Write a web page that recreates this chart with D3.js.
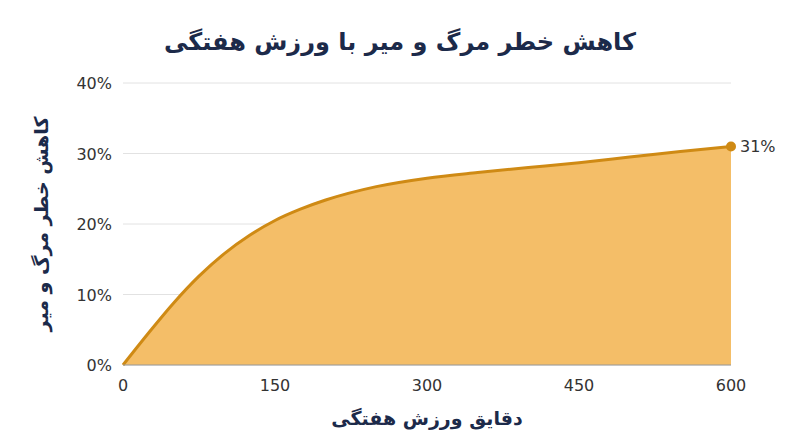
<!DOCTYPE html>
<html><head><meta charset="utf-8">
<script src="https://cdn.jsdelivr.net/npm/d3@7"></script>
<style>body{margin:0;background:#fff}</style>
</head><body>
<svg id="c" width="800" height="447"></svg>
<script>
// minutes of weekly exercise vs. risk reduction
const minutes = [0, 25, 50, 75, 100, 125, 150, 175, 200, 250, 300, 350, 400, 450, 500, 550, 600];
const reduction = [0, 4.5, 8.8, 12.6, 15.8, 18.4, 20.5, 22.1, 23.4, 25.3, 26.5, 27.3, 28.0, 28.7, 29.5, 30.3, 31];
const xTicks = [0, 150, 300, 450, 600];
const yTicks = [0, 10, 20, 30, 40];
const title = "کاهش خطر مرگ و میر با ورزش هفتگی";
const xLabel = "دقایق ورزش هفتگی";
const yLabel = "کاهش خطر مرگ و میر";

const svg = d3.select("#c");
const font = "'DejaVu Sans', sans-serif";
const ink = "#1c2a4a";
const x = d3.scaleLinear().domain([0, 600]).range([123, 731]);
const y = d3.scaleLinear().domain([0, 40]).range([365, 83]);

svg.append("text").attr("x", 400).attr("y", 50).attr("text-anchor", "middle")
  .attr("font-family", font).attr("font-weight", "bold").attr("font-size", 24)
  .attr("fill", ink).text(title);

// gridlines
svg.selectAll(".g").data(yTicks).join("line")
  .attr("x1", x(0)).attr("x2", x(600)).attr("y1", d => y(d)).attr("y2", d => y(d))
  .attr("stroke", "#e2e2e2");

const pts = minutes.map((m, i) => [m, reduction[i]]);
svg.append("path").datum(pts)
  .attr("d", d3.area().x(d => x(d[0])).y0(y(0)).y1(d => y(d[1])).curve(d3.curveMonotoneX))
  .attr("fill", "#f4be68");
svg.append("path").datum(pts)
  .attr("d", d3.line().x(d => x(d[0])).y(d => y(d[1])).curve(d3.curveMonotoneX))
  .attr("fill", "none").attr("stroke", "#cf8a14").attr("stroke-width", 3);

const last = pts[pts.length - 1];
svg.append("circle").attr("cx", x(last[0])).attr("cy", y(last[1])).attr("r", 5).attr("fill", "#cf8a14");
svg.append("text").attr("x", x(last[0]) + 9).attr("y", y(last[1]) + 6)
  .attr("font-family", font).attr("font-size", 16).attr("fill", "#333").text(last[1] + "%");

svg.append("line").attr("x1", x(0)).attr("x2", x(600)).attr("y1", y(0)).attr("y2", y(0)).attr("stroke", "#999");

svg.selectAll(".yt").data(yTicks).join("text")
  .attr("x", 112).attr("y", d => y(d) + 6).attr("text-anchor", "end")
  .attr("font-family", font).attr("font-size", 16).attr("fill", "#333").text(d => d + "%");
svg.selectAll(".xt").data(xTicks).join("text")
  .attr("x", d => x(d)).attr("y", 391).attr("text-anchor", "middle")
  .attr("font-family", font).attr("font-size", 16).attr("fill", "#333").text(d => d);

svg.append("text").attr("x", x(300)).attr("y", 425).attr("text-anchor", "middle")
  .attr("font-family", font).attr("font-weight", "bold").attr("font-size", 19)
  .attr("fill", ink).text(xLabel);
svg.append("text").attr("transform", `translate(48,${y(20)}) rotate(-90)`).attr("text-anchor", "middle")
  .attr("font-family", font).attr("font-weight", "bold").attr("font-size", 19)
  .attr("fill", ink).text(yLabel);
</script>
</body></html>
